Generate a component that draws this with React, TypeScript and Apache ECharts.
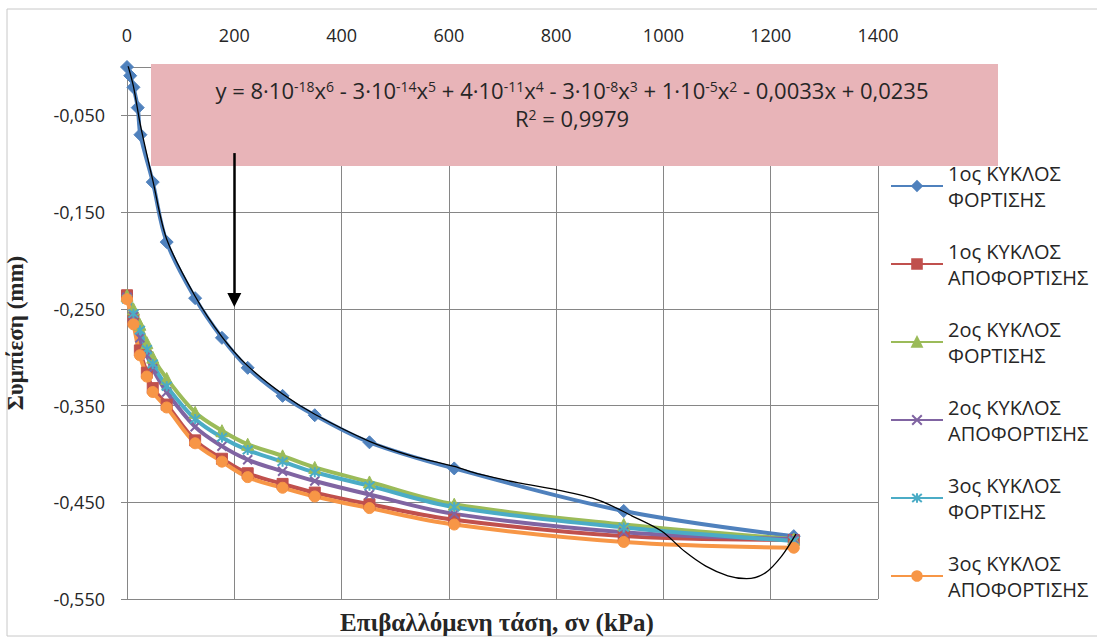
import React, { useEffect, useRef } from 'react';
import * as echarts from 'echarts';

// ---- data ----
const seriesNames = [
  '1ος ΚΥΚΛΟΣ ΦΟΡΤΙΣΗΣ',
  '1ος ΚΥΚΛΟΣ ΑΠΟΦΟΡΤΙΣΗΣ',
  '2ος ΚΥΚΛΟΣ ΦΟΡΤΙΣΗΣ',
  '2ος ΚΥΚΛΟΣ ΑΠΟΦΟΡΤΙΣΗΣ',
  '3ος ΚΥΚΛΟΣ ΦΟΡΤΙΣΗΣ',
  '3ος ΚΥΚΛΟΣ ΑΠΟΦΟΡΤΙΣΗΣ',
];

const stressLoad1 = [0, 6, 12, 20, 25, 48, 74, 127, 177, 225, 290, 350, 452, 610, 926, 1243];
const settleLoad1 = [0.0, -0.009, -0.021, -0.042, -0.07, -0.119, -0.181, -0.239, -0.28, -0.311, -0.34, -0.36, -0.388, -0.415, -0.459, -0.485];

const stressCycles = [0, 12, 24, 37, 48, 74, 127, 177, 225, 290, 350, 452, 610, 926, 1243];
const settleUnload1 = [-0.236, -0.262, -0.293, -0.316, -0.332, -0.349, -0.386, -0.405, -0.42, -0.431, -0.44, -0.452, -0.468, -0.485, -0.489];
const settleLoad2 = [-0.236, -0.25, -0.266, -0.285, -0.3, -0.322, -0.357, -0.376, -0.39, -0.402, -0.414, -0.429, -0.452, -0.473, -0.488];
const settleUnload2 = [-0.238, -0.258, -0.28, -0.298, -0.312, -0.336, -0.372, -0.392, -0.406, -0.418, -0.428, -0.442, -0.462, -0.481, -0.488];
const settleLoad3 = [-0.24, -0.255, -0.272, -0.292, -0.307, -0.33, -0.364, -0.383, -0.396, -0.408, -0.419, -0.433, -0.455, -0.476, -0.49];
const settleUnload3 = [-0.24, -0.266, -0.298, -0.32, -0.336, -0.352, -0.389, -0.408, -0.424, -0.435, -0.444, -0.456, -0.473, -0.491, -0.497];

// polynomial trend line (order 6) as drawn in the reference
const trendStress = [0, 12, 25, 48, 74, 127, 177, 225, 290, 350, 452, 530, 610, 657, 730, 800, 880, 941, 997, 1040, 1079, 1120, 1155, 1190, 1220, 1247];
const trendSettle = [0.005, -0.02, -0.06, -0.117, -0.178, -0.237, -0.279, -0.309, -0.338, -0.359, -0.387, -0.402, -0.413, -0.421, -0.43, -0.437, -0.448, -0.464, -0.48, -0.501, -0.516, -0.526, -0.529, -0.523, -0.506, -0.483];

const yTicks = [-0.55, -0.45, -0.35, -0.25, -0.15, -0.05];
const arrowFrom = [200, -0.089];
const arrowTo = [200, -0.241];

const colors = ['#4F81BD', '#C0504D', '#9BBB59', '#8064A2', '#4BACC6', '#F79646'];
const xMarker = 'path://M0,0L10,10M10,0L0,10';
const starMarker = 'path://M0,0L10,10M10,0L0,10M5,-1L5,11';

const zip = (xs: number[], ys: number[]) => xs.map((x, i) => [x, ys[i]]);

export default function App() {
  const ref = useRef<HTMLDivElement>(null);
  useEffect(() => {
    const chart = echarts.init(ref.current!, null, { renderer: 'svg' });
    const sans = 'Open Sans';
    const mk = (i: number, xs: number[], ys: number[], symbol: string, size: number, stroke = false) => ({
      type: 'line',
      name: seriesNames[i],
      data: zip(xs, ys),
      smooth: 0.35,
      symbol,
      symbolSize: size,
      showSymbol: true,
      lineStyle: { color: colors[i], width: 4 },
      itemStyle: stroke
        ? { color: colors[i], borderColor: colors[i], borderWidth: 2 }
        : { color: colors[i], borderColor: colors[i], borderWidth: 1 },
      emphasis: { disabled: true },
    });
    const richEq = {
      b: { fontFamily: sans, fontSize: 22, lineHeight: 22, fill: '#262626' },
      s: { fontFamily: sans, fontSize: 14, lineHeight: 11, verticalAlign: 'top', fill: '#262626' },
    };
    const option: any = {
      animation: false,
      backgroundColor: '#ffffff',
      grid: { left: 127, top: 67, right: 219, bottom: 40, containLabel: false, outerBoundsMode: 'none' },
      xAxis: {
        type: 'value',
        position: 'top',
        min: 0,
        max: 1400,
        interval: 200,
        axisLine: { show: true, onZero: false, lineStyle: { color: '#868686', width: 1 } },
        axisTick: { show: false },
        axisLabel: { margin: 23, fontSize: 18, color: '#262626', fontFamily: sans, formatter: (v: number) => String(v) },
        splitLine: { show: true, lineStyle: { color: '#868686', width: 1 } },
      },
      yAxis: {
        type: 'value',
        min: -0.55,
        max: 0,
        axisLine: { show: true, lineStyle: { color: '#868686', width: 1 } },
        axisTick: { show: true, length: 6, inside: false, customValues: yTicks, lineStyle: { color: '#868686' } },
        axisLabel: {
          customValues: yTicks,
          margin: 22,
          fontSize: 18,
          color: '#262626',
          fontFamily: sans,
          formatter: (v: number) => v.toFixed(3).replace('.', ','),
        },
        splitLine: { show: true, lineStyle: { color: '#868686', width: 1 } },
        name: 'Συμπίεση (mm)',
        nameLocation: 'middle',
        nameGap: 100,
        nameTextStyle: { fontFamily: 'Liberation Serif', fontWeight: 'bold', fontSize: 23, color: '#262626' },
      },
      legend: {
        orient: 'vertical',
        left: 885,
        top: 142,
        data: seriesNames,
        selectedMode: false,
        itemWidth: 52,
        itemHeight: 12,
        itemGap: 0,
        formatter: (n: string) => n.replace(' ΚΥΚΛΟΣ ', ' ΚΥΚΛΟΣ\n'),
        textStyle: { fontFamily: sans, fontSize: 20, lineHeight: 26, color: '#262626', padding: [26, 0, 0, 0] },
      },
      graphic: [
        { type: 'rect', z: 0, silent: true, shape: { x: 7, y: 9, width: 1100, height: 627 }, style: { fill: 'none', stroke: '#C8C8C8', lineWidth: 1 } },
        { type: 'rect', z: 1, silent: true, shape: { x: 151, y: 64, width: 847, height: 102 }, style: { fill: '#E8B4B8' } },
        {
          type: 'text',
          z: 2,
          silent: true,
          style: {
            x: 572,
            y: 90,
            align: 'center',
            verticalAlign: 'middle',
            text:
              '{b|y = 8·10}{s|-18}{b|x}{s|6}{b| - 3·10}{s|-14}{b|x}{s|5}{b| + 4·10}{s|-11}{b|x}{s|4}{b| - 3·10}{s|-8}{b|x}{s|3}{b| + 1·10}{s|-5}{b|x}{s|2}{b| - 0,0033x + 0,0235}',
            rich: richEq,
          },
        },
        {
          type: 'text',
          z: 2,
          silent: true,
          style: {
            x: 572,
            y: 118,
            align: 'center',
            verticalAlign: 'middle',
            text: '{b|R}{s|2}{b| = 0,9979}',
            rich: richEq,
          },
        },
        {
          type: 'text',
          z: 2,
          silent: true,
          style: {
            x: 497,
            y: 622,
            align: 'center',
            verticalAlign: 'middle',
            text: 'Επιβαλλόμενη τάση, σν (kPa)',
            fontFamily: 'Liberation Serif',
            fontWeight: 'bold',
            fontSize: 25,
            fill: '#262626',
          },
        },
      ],
      series: [
        mk(0, stressLoad1, settleLoad1, 'diamond', 13),
        mk(1, stressCycles, settleUnload1, 'rect', 11),
        mk(2, stressCycles, settleLoad2, 'triangle', 12),
        mk(3, stressCycles, settleUnload2, xMarker, 9, true),
        mk(4, stressCycles, settleLoad3, starMarker, 10, true),
        mk(5, stressCycles, settleUnload3, 'circle', 11),
        {
          type: 'line',
          name: 'trend',
          data: zip(trendStress, trendSettle),
          smooth: 0.3,
          showSymbol: false,
          symbol: 'none',
          lineStyle: { color: '#000000', width: 1.3 },
          emphasis: { disabled: true },
          z: 4,
          markLine: {
            silent: true,
            symbol: ['none', 'triangle'],
            symbolSize: 14,
            label: { show: false },
            lineStyle: { color: '#000000', width: 2.5, type: 'solid' },
            emphasis: { disabled: true },
            data: [[{ coord: arrowFrom }, { coord: arrowTo }]],
          },
        },
      ],
    };
    chart.setOption(option);
    return () => chart.dispose();
  }, []);
  return (
    <div
      ref={ref}
      style={{ position: 'fixed', left: 0, top: 0, width: 1097, height: 639, background: '#ffffff' }}
    />
  );
}
